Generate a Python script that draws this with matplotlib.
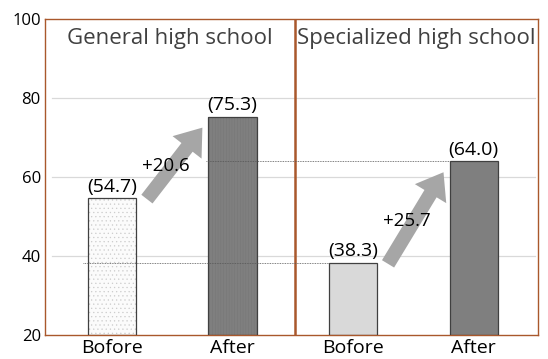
import matplotlib.pyplot as plt
import matplotlib as mpl

plt.rcParams['font.family'] = ['Open Sans', 'DejaVu Sans']
mpl.rcParams['hatch.linewidth'] = 0.4

# survey scores, before and after, for the two school types
groups = ["General high school", "Specialized high school"]
labels = ["Bofore", "After", "Bofore", "After"]
before = [54.7, 38.3]
after = [75.3, 64.0]
changes = ["+20.6", "+25.7"]
yticks = [20, 40, 60, 80, 100]

fig = plt.figure(figsize=(5.48, 3.59), dpi=100)
ax = fig.add_axes([0.082, 0.067, 0.9, 0.88])

brown = "#a9582c"
ax.set_xlim(-0.556, 3.535)
ax.set_ylim(20, 100)
ax.set_yticks(yticks)
ax.set_xticks(range(4))
ax.tick_params(length=0, labelsize=12, pad=3)
ax.set_xticklabels(labels, fontsize=14)
ax.tick_params(axis="x", pad=3)
for s in ax.spines.values():
    s.set_color(brown)
    s.set_linewidth(1.0)
ax.axvline(1.52, color=brown, lw=1.8)

# light gridlines
for v in yticks[1:-1]:
    ax.axhline(v, xmin=0.014, xmax=0.994, color="#d9d9d9", lw=0.9, zorder=0)

vals = [before[0], after[0], before[1], after[1]]
faces = ["#fbfbfb", "#7f7f7f", "#d9d9d9", "#7f7f7f"]
hatches = ["....", "||||||", None, None]
hatch_cols = ["#cccccc", "#777777", "#d9d9d9", "#7f7f7f"]
for i, v in enumerate(vals):
    ax.bar(i, v - 20, bottom=20, width=0.4, color=faces[i], hatch=hatches[i],
           edgecolor=hatch_cols[i], lw=0, zorder=2)
    ax.bar(i, v - 20, bottom=20, width=0.4, fill=False, edgecolor="#404040",
           lw=0.9, zorder=3)
    ax.text(i, v + 0.6, "(%.1f)" % v, ha="center", va="bottom", fontsize=14)

# dotted reference lines carried across from the specialized bars
ax.plot([-0.24, 2 - 0.2], [before[1], before[1]], color="#555555", lw=0.6,
        ls=(0, (1, 1)), zorder=4)
ax.plot([0.78, 3 - 0.2], [after[1], after[1]], color="#555555", lw=0.6,
        ls=(0, (1, 1)), zorder=4)

# growth arrows
for k in range(2):
    x0 = 2 * k
    ax.annotate("", xy=(x0 + 0.75, after[k] - 2.8), xytext=(x0 + 0.29, before[k] - 0.3),
                arrowprops=dict(arrowstyle="simple,head_length=1.5,head_width=2.2,tail_width=0.85",
                                color="#a6a6a6", lw=0, shrinkA=0, shrinkB=0,
                                mutation_scale=12), zorder=5)
    mid = (before[k] + after[k]) / 2
    ax.text(x0 + 0.45, mid - 2.2, changes[k], ha="center", va="center",
            fontsize=13.5, zorder=6)

ax.text(0.48, 97.8, groups[0], ha="center", va="top", fontsize=16, color="#404040")
ax.text(2.52, 97.8, groups[1], ha="center", va="top", fontsize=16, color="#404040")

fig.savefig("out.png", dpi=100)
